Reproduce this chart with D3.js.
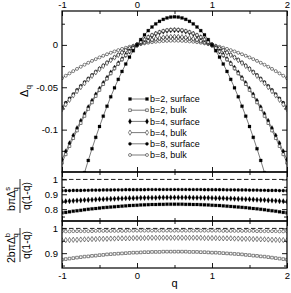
<!DOCTYPE html>
<html>
<head>
<meta charset="utf-8">
<script src="https://cdn.jsdelivr.net/npm/d3@7/dist/d3.min.js"></script>
<style>
body { margin: 0; background: #fff; }
text { font-family: "Liberation Sans", Arial, sans-serif; fill: #000; }
</style>
</head>
<body>
<div id="chart"></div>
<script>
// q grid of the calculation
var qValues = d3.range(61).map(function(i) { return -1 + i * 0.05; });

// b*pi*Delta^s / (q(1-q))  (surface)
var surfaceB2 = [.775,.778,.782,.786,.789,.792,.796,.799,.802,.804,.807,.810,.812,.814,.816,.818,.820,.822,.824,.825,.826,.828,.829,.830,.831,.831,.832,.832,.833,.833,
	.833,
	.833,.833,.832,.832,.831,.831,.830,.829,.828,.826,.825,.824,.822,.820,.818,.816,.814,.812,.810,.807,.804,.802,.799,.796,.792,.789,.786,.782,.778,.775];
var surfaceB4 = [.851,.853,.854,.856,.858,.859,.861,.862,.863,.865,.866,.867,.868,.869,.870,.871,.872,.873,.874,.874,.875,.876,.876,.877,.877,.877,.878,.878,.878,.878,
	.878,
	.878,.878,.878,.878,.877,.877,.877,.876,.876,.875,.874,.874,.873,.872,.871,.870,.869,.868,.867,.866,.865,.863,.862,.861,.859,.858,.856,.854,.853,.851];
var surfaceB8 = [.924,.925,.925,.926,.926,.926,.927,.927,.928,.928,.928,.929,.929,.929,.930,.930,.930,.931,.931,.931,.931,.931,.931,.932,.932,.932,.932,.932,.932,.932,
	.932,
	.932,.932,.932,.932,.932,.932,.932,.931,.931,.931,.931,.931,.931,.930,.930,.930,.929,.929,.929,.928,.928,.928,.927,.927,.926,.926,.926,.925,.925,.924];

// 2*b*pi*Delta^b / (q(1-q))  (bulk)
var bulkB2 = [.874,.876,.878,.880,.882,.884,.886,.887,.889,.890,.892,.893,.895,.896,.897,.898,.899,.900,.901,.902,.902,.903,.904,.904,.905,.905,.905,.906,.906,.906,
	.906,
	.906,.906,.906,.905,.905,.905,.904,.904,.903,.902,.902,.901,.900,.899,.898,.897,.896,.895,.893,.892,.890,.889,.887,.886,.884,.882,.880,.878,.876,.874];
var bulkB4 = [.952,.953,.953,.954,.954,.955,.956,.956,.957,.957,.958,.958,.958,.959,.959,.960,.960,.960,.960,.961,.961,.961,.961,.962,.962,.962,.962,.962,.962,.962,
	.962,
	.962,.962,.962,.962,.962,.962,.962,.961,.961,.961,.961,.960,.960,.960,.960,.959,.959,.958,.958,.958,.957,.957,.956,.956,.955,.954,.954,.953,.953,.952];
var bulkB8 = [.988,.988,.988,.989,.989,.989,.989,.989,.989,.990,.990,.990,.990,.990,.990,.990,.990,.990,.991,.991,.991,.991,.991,.991,.991,.991,.991,.991,.991,.991,
	.991,
	.991,.991,.991,.991,.991,.991,.991,.991,.991,.991,.991,.991,.990,.990,.990,.990,.990,.990,.990,.990,.990,.989,.989,.989,.989,.989,.989,.988,.988,.988];

var legendLabels = ["b=2, surface", "b=2, bulk", "b=4, surface", "b=4, bulk", "b=8, surface", "b=8, bulk"];

var xTicks = [-1, 0, 1, 2],
	xMinorTicks = [-0.5, 0.5, 1.5],
	topTicks = [0, -0.05, -0.1],
	topMinorTicks = [0.025, -0.025, -0.075, -0.125],
	midTicks = [1, 0.9, 0.8],
	midMinorTicks = [0.95, 0.85, 0.75],
	botTicks = [1, 0.9],
	botMinorTicks = [0.95, 0.85];

var series = [
	{ ratio: surfaceB2, b: 2, kind: "surface", shape: d3.symbolSquare, size: 9, filled: true },
	{ ratio: bulkB2, b: 2, kind: "bulk", shape: d3.symbolSquare, size: 7, filled: false },
	{ ratio: surfaceB4, b: 4, kind: "surface", shape: d3.symbolDiamond, size: 9, filled: true },
	{ ratio: bulkB4, b: 4, kind: "bulk", shape: d3.symbolDiamond, size: 8, filled: false },
	{ ratio: surfaceB8, b: 8, kind: "surface", shape: d3.symbolCircle, size: 8, filled: true },
	{ ratio: bulkB8, b: 8, kind: "bulk", shape: d3.symbolCircle, size: 7, filled: false }
];

// Delta_q from the ratio, following the definitions on the lower y labels
series.forEach(function(s) {
	var factor = s.kind == "surface" ? s.b * Math.PI : 2 * s.b * Math.PI;
	s.delta = qValues.map(function(q, i) { return s.ratio[i] * q * (1 - q) / factor; });
});

var left = 62, right = 287;
var x = d3.scaleLinear().domain([-1, 2]).range([left, right]);
var yTop = d3.scaleLinear().domain([-0.15, 0.04]).range([172, 11]);
var yMid = d3.scaleLinear().domain([0.72, 1.05]).range([221, 172]);
var yBot = d3.scaleLinear().domain([0.84, 1.03]).range([268, 221]);

var svg = d3.select("#chart").append("svg")
	.attr("width", 291)
	.attr("height", 293);

var defs = svg.append("defs");

function hyphen(d) {
	return String(d).replace("\u2212", "-");
}

function addClip(id, y) {
	var r = y.range();
	defs.append("clipPath").attr("id", id)
		.append("rect")
		.attr("x", left).attr("y", r[1])
		.attr("width", right - left).attr("height", r[0] - r[1]);
}

function drawMarker(g, cx, cy, s) {
	g.append("path")
		.attr("d", d3.symbol().type(s.shape).size(s.size)())
		.attr("transform", "translate(" + cx + "," + cy + ")")
		.attr("fill", s.filled ? "#000" : "#fff")
		.attr("stroke", s.filled ? "#000" : "#333")
		.attr("stroke-width", s.filled ? 0.2 : 0.6);
}

function drawAxes(y, major, minor, labelTop, labelBottom) {
	var r = y.range();
	var g = svg.append("g");

	// y axes, ticks pointing inside
	g.append("g").attr("transform", "translate(" + left + ",0)")
		.call(d3.axisLeft(y).tickValues(major).tickSize(-5).tickPadding(4).tickFormat(hyphen));
	g.append("g").attr("transform", "translate(" + left + ",0)")
		.call(d3.axisLeft(y).tickValues(minor).tickSize(-3).tickFormat(""));
	g.append("g").attr("transform", "translate(" + right + ",0)")
		.call(d3.axisRight(y).tickValues(major).tickSize(-5).tickFormat(""));
	g.append("g").attr("transform", "translate(" + right + ",0)")
		.call(d3.axisRight(y).tickValues(minor).tickSize(-3).tickFormat(""));

	// x axes
	g.append("g").attr("transform", "translate(0," + r[1] + ")")
		.call(d3.axisTop(x).tickValues(xTicks).tickSize(-5).tickPadding(3).tickFormat(labelTop ? hyphen : ""));
	g.append("g").attr("transform", "translate(0," + r[1] + ")")
		.call(d3.axisTop(x).tickValues(xMinorTicks).tickSize(-3).tickFormat(""));
	g.append("g").attr("transform", "translate(0," + r[0] + ")")
		.call(d3.axisBottom(x).tickValues(xTicks).tickSize(-5).tickPadding(4).tickFormat(labelBottom ? hyphen : ""));
	g.append("g").attr("transform", "translate(0," + r[0] + ")")
		.call(d3.axisBottom(x).tickValues(xMinorTicks).tickSize(-3).tickFormat(""));

	g.selectAll(".domain").remove();
	g.selectAll(".tick line").attr("stroke", "#000").attr("stroke-width", 0.9);
	g.selectAll(".tick text").attr("font-size", 9.5).attr("font-family", "Liberation Sans, Arial, sans-serif");

	g.append("rect")
		.attr("x", left).attr("y", r[1])
		.attr("width", right - left).attr("height", r[0] - r[1])
		.attr("fill", "none")
		.attr("stroke", "#000")
		.attr("stroke-width", 1.2);
}

addClip("clipTop", yTop);
addClip("clipMid", yMid);
addClip("clipBot", yBot);

// top panel: Delta_q
var topPlot = svg.append("g").attr("clip-path", "url(#clipTop)");
var line = d3.line()
	.x(function(d, i) { return x(qValues[i]); })
	.y(function(d) { return yTop(d); });

series.slice().reverse().forEach(function(s) {
	topPlot.append("path")
		.attr("d", line(s.delta))
		.attr("fill", "none")
		.attr("stroke", "#222")
		.attr("stroke-width", 0.6);
	s.delta.forEach(function(d, i) {
		drawMarker(topPlot, x(qValues[i]), yTop(d), s);
	});
});

// middle panel: surface ratios
var midPlot = svg.append("g").attr("clip-path", "url(#clipMid)");
midPlot.append("line")
	.attr("x1", left).attr("x2", right)
	.attr("y1", yMid(1)).attr("y2", yMid(1))
	.attr("stroke", "#222").attr("stroke-width", 1)
	.attr("stroke-dasharray", "4.5,2.5");
series.filter(function(s) { return s.kind == "surface"; }).forEach(function(s) {
	s.ratio.forEach(function(r, i) {
		drawMarker(midPlot, x(qValues[i]), yMid(r), s);
	});
});

// bottom panel: bulk ratios
var botPlot = svg.append("g").attr("clip-path", "url(#clipBot)");
botPlot.append("line")
	.attr("x1", left).attr("x2", right)
	.attr("y1", yBot(1)).attr("y2", yBot(1))
	.attr("stroke", "#222").attr("stroke-width", 1)
	.attr("stroke-dasharray", "4.5,2.5");
series.filter(function(s) { return s.kind == "bulk"; }).forEach(function(s) {
	s.ratio.forEach(function(r, i) {
		drawMarker(botPlot, x(qValues[i]), yBot(r), s);
	});
});

drawAxes(yTop, topTicks, topMinorTicks, true, false);
drawAxes(yMid, midTicks, midMinorTicks, false, false);
drawAxes(yBot, botTicks, botMinorTicks, false, true);

// legend
var legend = svg.append("g");
series.forEach(function(s, i) {
	var ly = 99 + i * 11.2;
	legend.append("line")
		.attr("x1", 130).attr("x2", 147)
		.attr("y1", ly).attr("y2", ly)
		.attr("stroke", "#222").attr("stroke-width", 0.6);
	drawMarker(legend, 130, ly, s);
	drawMarker(legend, 147, ly, s);
	legend.append("text")
		.attr("x", 150).attr("y", ly)
		.attr("dy", "0.35em")
		.attr("font-size", 9)
		.text(legendLabels[i]);
});

// axis titles
svg.append("text")
	.attr("x", 174.5).attr("y", 287)
	.attr("text-anchor", "middle")
	.attr("font-size", 11)
	.text("q");

var topLabel = svg.append("text")
	.attr("transform", "translate(28,91) rotate(-90)")
	.attr("text-anchor", "middle")
	.attr("font-size", 11);
topLabel.append("tspan").text("\u0394");
topLabel.append("tspan").attr("font-size", 8).attr("dy", 3).text("q");

function fractionLabel(cy, prefix, sup) {
	var g = svg.append("g").attr("transform", "translate(0," + cy + ") rotate(-90)");
	var num = g.append("text")
		.attr("x", -3).attr("y", 15)
		.attr("text-anchor", "middle")
		.attr("font-size", 10.5);
	num.append("tspan").text(prefix + "\u03c0\u0394");
	num.append("tspan").attr("font-size", 7.5).attr("dy", -5).text(sup);
	num.append("tspan").attr("font-size", 7.5).attr("dx", -4.5).attr("dy", 8).text("q");
	g.append("line")
		.attr("x1", -17).attr("x2", 17)
		.attr("y1", 20).attr("y2", 20)
		.attr("stroke", "#000").attr("stroke-width", 0.8);
	g.append("text")
		.attr("x", 0).attr("y", 30)
		.attr("text-anchor", "middle")
		.attr("font-size", 10.5)
		.text("q(1-q)");
}

fractionLabel(196, "b", "s");
fractionLabel(245, "2b", "b");
</script>
</body>
</html>
